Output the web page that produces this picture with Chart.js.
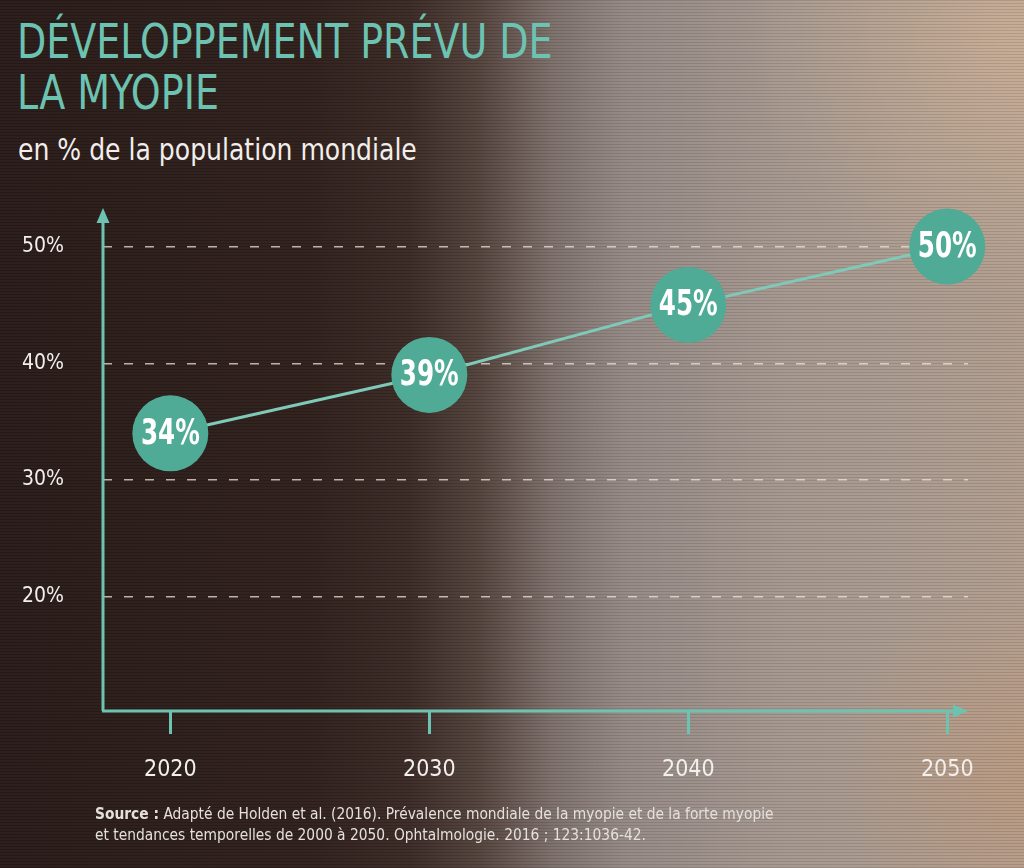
<!DOCTYPE html>
<html lang="fr">
<head>
<meta charset="utf-8">
<script src="https://cdn.jsdelivr.net/npm/chart.js@4"></script>
<style>
  html, body { margin: 0; padding: 0; }
  body {
    width: 1024px; height: 868px; overflow: hidden; position: relative;
    background:
      repeating-linear-gradient(to bottom, rgba(0,0,0,0.10) 0 1px, rgba(255,255,255,0.02) 1px 3px),
      radial-gradient(circle at 1010px 40px, rgba(225,190,155,0.45), rgba(225,190,155,0) 260px),
      radial-gradient(circle at 1030px 780px, rgba(200,150,110,0.40), rgba(200,150,110,0) 200px),
      linear-gradient(to right, #281b18 0%, #2f201c 30%, #3b2a25 40%, #55443e 47%, #7d706b 54%, #958985 61%, #a4978f 76%, #b09d8f 100%);
  }
  .narrow { font-family: "Liberation Sans Narrow", "DejaVu Sans Condensed", "Liberation Sans", sans-serif; transform-origin: 0 0; }
  #title { position: absolute; left: 17px; top: 16px; color: #6cc3b1; font-size: 48px; line-height: 51px; transform: scaleX(0.88); white-space: nowrap; }
  #subtitle { position: absolute; left: 18px; top: 132px; color: #f2eeeb; font-size: 30px; transform: scaleX(0.93); white-space: nowrap; }
  #source { position: absolute; left: 95px; top: 803px; color: #e6e0dc; font-size: 16px; line-height: 21px; transform: scaleX(0.96); white-space: nowrap; }
  canvas { position: absolute; left: 0; top: 0; }
</style>
</head>
<body>
<div id="title" class="narrow">DÉVELOPPEMENT PRÉVU DE<br>LA MYOPIE</div>
<div id="subtitle" class="narrow">en % de la population mondiale</div>
<canvas id="chart" width="1024" height="868"></canvas>
<div id="source" class="narrow"><b>Source :</b> Adapté de Holden et al. (2016). Prévalence mondiale de la myopie et de la forte myopie<br>et tendances temporelles de 2000 à 2050. Ophtalmologie. 2016 ; 123:1036-42.</div>
<script>
const years = [2020, 2030, 2040, 2050];
const myopia = [34, 39, 45, 50];
const yTicks = [20, 30, 40, 50];

const FONT = '"Liberation Sans Narrow", "DejaVu Sans Condensed", "Liberation Sans", sans-serif';
const TEAL = "#6cc3b1";

// axis lines with arrow heads
const arrowAxes = {
  id: "arrowAxes",
  beforeDatasetsDraw(chart) {
    const {ctx, chartArea: a} = chart;
    ctx.save();
    ctx.strokeStyle = TEAL;
    ctx.fillStyle = TEAL;
    ctx.lineWidth = 3;
    ctx.beginPath();
    ctx.moveTo(a.left, a.bottom + 1);
    ctx.lineTo(a.left, a.top + 14);
    ctx.moveTo(a.left - 1, a.bottom + 1);
    ctx.lineTo(a.right - 14, a.bottom + 1);
    ctx.stroke();
    ctx.beginPath();
    ctx.moveTo(a.left, a.top);
    ctx.lineTo(a.left - 6.5, a.top + 15);
    ctx.lineTo(a.left + 6.5, a.top + 15);
    ctx.closePath();
    ctx.fill();
    ctx.beginPath();
    ctx.moveTo(a.right, a.bottom + 1);
    ctx.lineTo(a.right - 15, a.bottom - 5.5);
    ctx.lineTo(a.right - 15, a.bottom + 7.5);
    ctx.closePath();
    ctx.fill();
    ctx.restore();
  }
};

// percentage text inside each circle, squeezed to look condensed
const bubbleLabels = {
  id: "bubbleLabels",
  afterDatasetsDraw(chart) {
    const {ctx} = chart;
    const meta = chart.getDatasetMeta(0);
    meta.data.forEach((pt, i) => {
      ctx.save();
      ctx.translate(pt.x, pt.y + 1);
      ctx.scale(0.76, 1);
      ctx.fillStyle = "#ffffff";
      ctx.font = "bold 36px " + FONT;
      ctx.textAlign = "center";
      ctx.textBaseline = "middle";
      ctx.fillText(myopia[i] + "%", 0, 0);
      ctx.restore();
    });
  }
};

new Chart(document.getElementById("chart"), {
  type: "line",
  data: {
    datasets: [{
      data: years.map((x, i) => ({x, y: myopia[i]})),
      borderColor: "#7fc9b9",
      borderWidth: 3,
      pointRadius: 38,
      pointHoverRadius: 38,
      pointBackgroundColor: "#4fab96",
      pointBorderWidth: 0,
      tension: 0,
      clip: false,
    }],
  },
  options: {
    responsive: false,
    animation: false,
    events: [],
    layout: {padding: {top: 208, right: 56, bottom: 0, left: 0}},
    plugins: {legend: {display: false}, tooltip: {enabled: false}},
    scales: {
      x: {
        type: "linear",
        min: 2017.4,
        max: 2050.8,
        afterBuildTicks: (s) => { s.ticks = years.map((value) => ({value})); },
        afterFit: (s) => { s.height = 158; },
        ticks: {
          color: "#f3efec",
          font: {size: 23, family: FONT},
          padding: 22,
          callback: (v) => String(v),
        },
        grid: {drawOnChartArea: false, drawTicks: true, tickLength: 24, color: TEAL, lineWidth: 3},
        border: {display: false},
      },
      y: {
        min: 10.3,
        max: 53.3,
        afterBuildTicks: (s) => { s.ticks = yTicks.map((value) => ({value})); },
        afterFit: (s) => { s.width = 103; },
        ticks: {
          color: "#f3efec",
          font: {size: 21, family: FONT},
          padding: 39,
          callback: (v) => v + "%",
        },
        grid: {drawTicks: false, color: "rgba(238,228,218,0.75)", lineWidth: 1.5},
        border: {display: false, dash: [9, 12]},
      },
    },
  },
  plugins: [arrowAxes, bubbleLabels],
});
</script>
</body>
</html>
